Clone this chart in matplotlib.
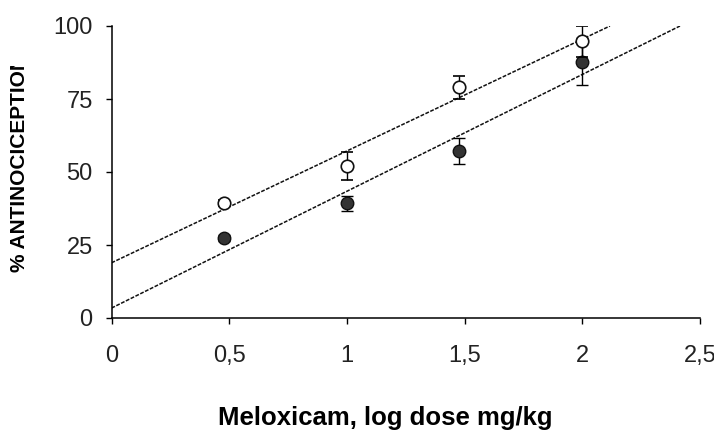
import matplotlib
matplotlib.use('Agg')
import matplotlib.pyplot as plt
import numpy as np
from matplotlib.patches import Rectangle

# log dose (3, 10, 30, 100 mg/kg)
logDose = [0.477, 1.0, 1.477, 2.0]

openMean = [39.3, 52.2, 79.0, 94.8]
openSem = [1.0, 4.8, 4.0, 5.3]
filledMean = [27.3, 39.3, 57.2, 87.8]
filledSem = [1.0, 2.5, 4.3, 8.0]

# regression lines (intercept, slope)
openFit = (18.9, 38.3)
filledFit = (3.4, 40.0)

xTicks = [0, 0.5, 1, 1.5, 2, 2.5]
xTickLabels = ['0', '0,5', '1', '1,5', '2', '2,5']
yTicks = [0, 25, 50, 75, 100]

plt.rcParams['font.family'] = ['Liberation Sans', 'DejaVu Sans']

fig = plt.figure(figsize=(7.14, 4.32), dpi=100)
ax = fig.add_axes([111.5 / 714, 1 - 318 / 432, (700 - 111.5) / 714, (318 - 26) / 432])

for (b, m) in [openFit, filledFit]:
	xEnd = (100 - b) / m
	xx = np.array([0, xEnd])
	ax.plot(xx, b + m * xx, color='#111111', lw=1.1, ls=(0, (2.5, 1)), zorder=2)

ax.errorbar(logDose, filledMean, yerr=filledSem, fmt='o', ms=9, mfc='#333333', mec='#111111',
	mew=1.0, ecolor='black', elinewidth=1.0, capsize=4, capthick=1.0, zorder=3)
ax.errorbar(logDose, openMean, yerr=openSem, fmt='o', ms=9, mfc='white', mec='#111111',
	mew=1.2, ecolor='black', elinewidth=1.0, capsize=4, capthick=1.0, zorder=4)

ax.set_xlim(0, 2.5)
ax.set_ylim(0, 100)
ax.set_xticks(xTicks)
ax.set_xticklabels(xTickLabels)
ax.set_yticks(yTicks)
for s in ['top', 'right']:
	ax.spines[s].set_visible(False)
for s in ['left', 'bottom']:
	ax.spines[s].set_linewidth(1.1)
ax.tick_params(axis='both', direction='out', length=4.5, width=1.0, labelsize=17)
ax.tick_params(axis='x', pad=15)
ax.tick_params(axis='y', pad=9)
for lb in ax.get_xticklabels() + ax.get_yticklabels():
	lb.set_color('#222222')

fig.text(385 / 714, (432 - 425) / 432, 'Meloxicam, log dose mg/kg', ha='center', va='baseline',
	fontsize=18.5, fontweight='bold')
yl = fig.text(20 / 714, (432 - 272) / 432, '% ANTINOCICEPTION', rotation=90, ha='center', va='bottom',
	fontsize=15, fontweight='bold')
yl.set_clip_path(Rectangle((0, 0), 1, 1 - 66 / 432, transform=fig.transFigure))

fig.savefig('out.png', dpi=100)
